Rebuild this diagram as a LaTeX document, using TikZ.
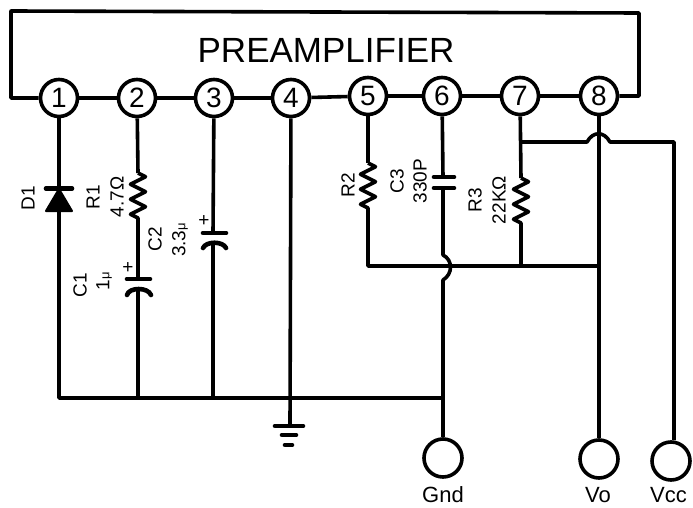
\documentclass[tikz,border=0pt]{standalone}
\usepackage{fontspec}
\setmainfont{Liberation Sans}
\usepackage{tikz}
\usetikzlibrary{decorations.pathmorphing,calc}
\tikzset{
    wire/.style={line width=3.6pt, line join=round},
    pin/.style={circle, draw, line width=3.6pt, minimum size=37pt, inner sep=0pt, font=\fontsize{28}{28}\selectfont},
    terminal/.style={circle, draw, line width=3.6pt, minimum size=38pt, inner sep=0pt},
    resistor/.style={wire, decorate, decoration={zigzag, segment length=15pt, amplitude=7.5pt}},
    plate/.style={line width=4.6pt, line cap=round},
    lbl/.style={rotate=90, font=\fontsize{19}{19}\selectfont, inner sep=0pt},
    pinlabel/.style={font=\fontsize{22}{22}\selectfont, inner sep=0pt}
}
\newcommand{\smallmu}{{\fontsize{13}{13}\selectfont μ}}
\begin{document}
\begin{tikzpicture}[x=1pt,y=-1pt]
    \useasboundingbox[fill=white] (0,0) rectangle (693,508);

    % pins
    \foreach \name/\px/\py in {1/59/98, 2/137/98, 3/214/98, 4/291/98, 5/368/96, 6/442/96, 7/520/96, 8/599/96}
        \node[pin] (p\name) at (\px,\py) {\name};
    \node[font=\fontsize{35}{35}\selectfont] (title) at (326,50) {PREAMPLIFIER};

    % terminals
    \node[terminal] (gnd) at (443,458) {};
    \node[terminal] (vo) at (599,459) {};
    \node[terminal] (vcc) at (671,461) {};
    \node[pinlabel] (gndlabel) at (443,495) {Gnd};
    \node[pinlabel] (volabel) at (598,495) {Vo};
    \node[pinlabel, anchor=west] (vcclabel) at (650,495) {Vcc};

    % package outline
    \coordinate (tl) at (11,98);
    \coordinate (tr) at (639,96);
    \draw[wire] (p1) -- (tl) -- (11,11) -- (639,13) -- (tr) -- (p8);
    \foreach \a/\b in {1/2, 2/3, 3/4, 4/5, 5/6, 6/7, 7/8}
        \draw[wire] (p\a) -- (p\b);

    % ground bus
    \coordinate (busl) at (59,398);
    \coordinate (busc1) at (138,398);
    \coordinate (busc2) at (213,398);
    \coordinate (busg) at (291,398);
    \coordinate (busr) at (443,398);
    \draw[wire] (p1) -- (busl) -- (busr) -- (gnd);

    % diode
    \coordinate (d1) at (59,189);
    \fill[line join=round, draw, line width=2pt] (d1) -- ++(-13,22) -- ++(26,0) -- cycle;
    \draw[plate] (46,188.5) -- (72,188.5);

    % R1 and C1
    \coordinate (r1a) at (138,173);
    \coordinate (r1b) at (138,222);
    \coordinate (c1a) at (138,279);
    \coordinate (c1b) at (138,291);
    \draw[wire] (p2) -- (r1a);
    \draw[resistor] (r1a) -- (r1b);
    \draw[wire] (r1b) -- (c1a);
    \draw[plate] (127,279) -- (150,279);
    \draw[plate] (127,295) .. controls (129,287) and (148,287) .. (151,295);
    \draw[wire] (c1b) -- (busc1);

    % C2
    \coordinate (c2a) at (213,233);
    \coordinate (c2b) at (213,245);
    \draw[wire] (p3) -- (c2a);
    \draw[plate] (203,233) -- (226,233);
    \draw[plate] (203,248) .. controls (206,241) and (223,241) .. (226,248);
    \draw[wire] (c2b) -- (busc2);

    % ground symbol
    \coordinate (g1) at (290,426);
    \draw[wire] (p4) -- (g1);
    \draw[plate] (275,426) -- (303,426);
    \draw[plate] (282,435) -- (296,435);
    \draw[plate] (285,445) -- (292,445);

    % R2
    \coordinate (r2a) at (368,163);
    \coordinate (r2b) at (368,213);
    \coordinate (fbl) at (368,266);
    \coordinate (fbr) at (599,266);
    \draw[wire] (p5) -- (r2a);
    \draw[resistor] (r2a) -- (r2b);
    \draw[wire] (r2b) -- (fbl) -- (fbr);

    % C3 and the hop over the feedback line
    \coordinate (c3a) at (443,177);
    \coordinate (c3b) at (443,188);
    \coordinate (hopa) at (443,255);
    \coordinate (hopb) at (443,280);
    \draw[wire] (p6) -- (c3a);
    \draw[plate] (434,177) -- (454,177);
    \draw[plate] (434,188) -- (454,188);
    \draw[wire] (c3b) -- (hopa) .. controls (453,260) and (453,274) .. (hopb) -- (gnd);

    % R3
    \coordinate (r3a) at (521,178);
    \coordinate (r3b) at (521,228);
    \coordinate (r3c) at (521,266);
    \draw[wire] (p7) -- (r3a);
    \draw[resistor] (r3a) -- (r3b);
    \draw[wire] (r3b) -- (r3c);

    % Vo and Vcc
    \coordinate (vcca) at (521,142);
    \coordinate (hop8a) at (587,142);
    \coordinate (hop8b) at (610,142);
    \coordinate (vccb) at (674,142);
    \draw[wire] (p8) -- (vo);
    \draw[wire] (vcca) -- (hop8a) .. controls (593,131) and (604,131) .. (hop8b) -- (vccb) -- (vccb |- vcc.north);

    % labels
    \node[lbl] (d1label) at (28,198) {D1};
    \node[lbl] (r1label) at (93,197) {R1};
    \node[lbl] (r1value) at (117,197) {4.7Ω};
    \node[lbl] (c2label) at (155,239) {C2};
    \node[lbl] (c2value) at (180,240) {3.3\smallmu};
    \node[lbl] (c1label) at (80,285) {C1};
    \node[lbl] (c1value) at (104,281) {1\smallmu};
    \node[lbl] (r2label) at (348,185) {R2};
    \node[lbl] (c3label) at (397,181) {C3};
    \node[lbl] (c3value) at (420,181) {330P};
    \node[lbl] (r3label) at (475,200) {R3};
    \node[lbl] (r3value) at (499,200) {22KΩ};
    \node[font=\fontsize{19}{19}\selectfont, inner sep=0pt] (c1plus) at (128,268) {+};
    \node[font=\fontsize{19}{19}\selectfont, inner sep=0pt] (c2plus) at (204,221) {+};
\end{tikzpicture}
\end{document}
